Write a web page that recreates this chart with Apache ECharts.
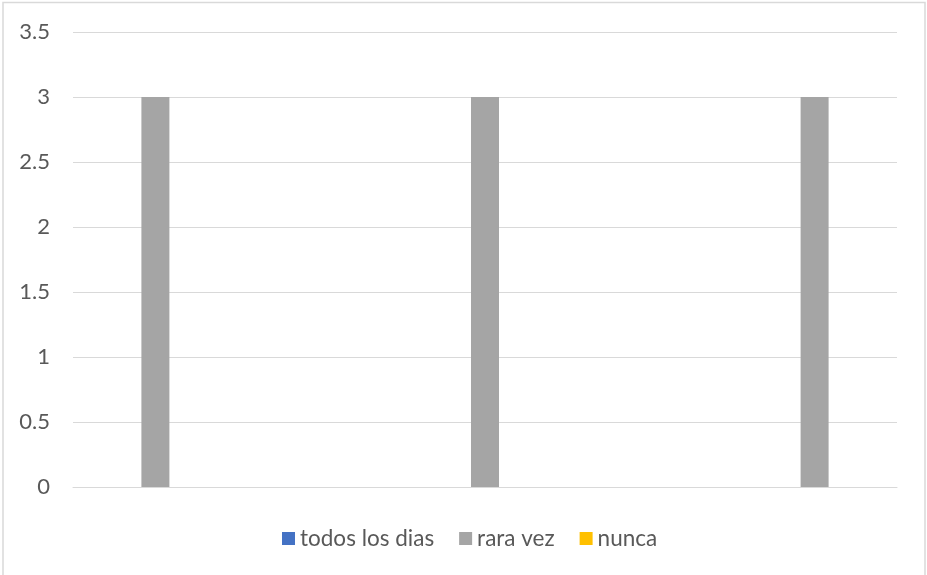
<!DOCTYPE html>
<html>
<head>
<meta charset="utf-8">
<script src="https://cdn.jsdelivr.net/npm/echarts@6/dist/echarts.min.js"></script>
<style>html,body{margin:0;padding:0;background:#fff}#c{width:927px;height:575px}</style>
</head>
<body>
<div id="c"></div>
<script>
var categories = ['1', '2', '3', '4', '5'];
var seriesNames = ['todos los dias', 'rara vez', 'nunca'];
var todosLosDias = [0, 0, 0, 0, 0];
var raraVez = [3, 0, 3, 0, 3];
var nunca = [0, 0, 0, 0, 0];
var yTicks = [0, 0.5, 1, 1.5, 2, 2.5, 3, 3.5];
var colors = ['#4472c4', '#a5a5a5', '#ffc000'];

var chart = echarts.init(document.getElementById('c'), null, {renderer: 'canvas'});
var font = 'Lato, Liberation Sans, sans-serif';
var values = [todosLosDias, raraVez, nunca];
chart.setOption({
  animation: false,
  color: colors,
  graphic: [{
    type: 'rect', silent: true, z: -1,
    shape: {x: 3, y: 2.5, width: 922, height: 600},
    style: {fill: 'none', stroke: '#d9d9d9', lineWidth: 1.5}
  }],
  grid: {left: 73, right: 30, top: 32, bottom: 88, containLabel: false},
  legend: {
    data: seriesNames, left: 282, top: 527, padding: 0,
    itemWidth: 13, itemHeight: 13, itemGap: 25, icon: 'rect',
    textStyle: {fontFamily: font, fontSize: 22.5, color: '#595959'}
  },
  xAxis: {
    type: 'category', data: categories,
    axisLine: {show: true, lineStyle: {color: '#d9d9d9', width: 1}},
    axisTick: {show: false}, axisLabel: {show: false}
  },
  yAxis: {
    type: 'value', min: yTicks[0], max: yTicks[yTicks.length - 1], interval: 0.5,
    axisLine: {show: false}, axisTick: {show: false},
    axisLabel: {margin: 23, fontFamily: font, fontSize: 22, color: '#595959'},
    splitLine: {lineStyle: {color: '#d9d9d9', width: 1}}
  },
  series: seriesNames.map(function (n, i) {
    return {name: n, type: 'bar', data: values[i], barWidth: 28, barGap: '0%',
      itemStyle: {color: colors[i]}};
  })
});
</script>
</body>
</html>
